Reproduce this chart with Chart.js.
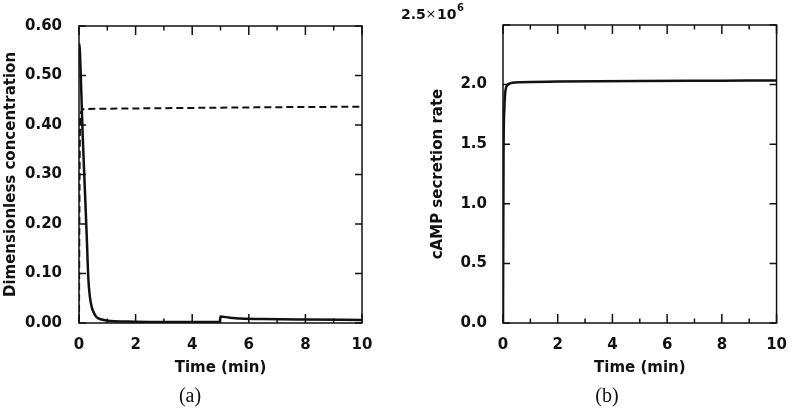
<!DOCTYPE html>
<html>
<head>
<meta charset="utf-8">
<script src="https://cdn.jsdelivr.net/npm/chart.js@4"></script>
<style>
  body { margin: 0; background: #fff; }
  #wrap { position: relative; width: 800px; height: 410px; }
  canvas { position: absolute; top: 0; }
</style>
</head>
<body>
<div id="wrap">
  <canvas id="chartA" width="400" height="410" style="left:0"></canvas>
  <canvas id="chartB" width="400" height="410" style="left:400px"></canvas>
</div>
<script>
// panel (a): dimensionless concentrations
const timeSolidA = [0, 0.03, 0.08, 0.13, 0.2, 0.27, 0.33, 0.38, 0.45, 0.53, 0.62, 0.8, 1.1, 1.6, 2.5, 4.97, 5.0, 5.3, 5.7, 6.5, 8, 10];
const solidA = [0.565, 0.55, 0.47, 0.38, 0.28, 0.18, 0.09, 0.055, 0.032, 0.02, 0.012, 0.007, 0.004, 0.003, 0.002, 0.002, 0.013, 0.011, 0.009, 0.008, 0.007, 0.006];
const timeDashedA = [0, 0.02, 0.05, 0.15, 1, 3, 5, 7, 10];
const dashedA = [0, 0.3, 0.42, 0.432, 0.433, 0.434, 0.435, 0.436, 0.437];

// panel (b): cAMP secretion rate, in units of 10^6
const timeB = [0, 0.02, 0.05, 0.08, 0.12, 0.2, 0.35, 0.6, 2, 5, 8, 10];
const rateB = [0, 1.4, 1.8, 1.93, 1.98, 2.005, 2.015, 2.02, 2.025, 2.03, 2.033, 2.035];

// ticks
const xTicks = [0, 2, 4, 6, 8, 10];
const xMinor = [1, 3, 5, 7, 9];
const yTicksA = [0, 0.1, 0.2, 0.3, 0.4, 0.5, 0.6];
const yTicksB = [0, 0.5, 1.0, 1.5, 2.0, 2.5];

const ink = '#111';
const tickFont = { family: 'DejaVu Sans', size: 15, weight: 'bold' };

const pts = (xs, ys) => xs.map((x, i) => ({ x: x, y: ys[i] }));

// frame with inward ticks on all four sides, plus the caption and the 10^6 label
const frameTicks = {
  id: 'frameTicks',
  afterDatasetsDraw(chart, args, opts) {
    const { ctx, chartArea: a, scales: { x, y } } = chart;
    ctx.save();
    ctx.strokeStyle = ink;
    ctx.lineWidth = 1.5;
    ctx.strokeRect(a.left, a.top, a.right - a.left, a.bottom - a.top);
    ctx.beginPath();
    xTicks.forEach(v => {
      const px = x.getPixelForValue(v);
      ctx.moveTo(px, a.bottom); ctx.lineTo(px, a.bottom - 9);
      ctx.moveTo(px, a.top); ctx.lineTo(px, a.top + 9);
    });
    xMinor.forEach(v => {
      const px = x.getPixelForValue(v);
      ctx.moveTo(px, a.bottom); ctx.lineTo(px, a.bottom - 4.5);
      ctx.moveTo(px, a.top); ctx.lineTo(px, a.top + 4.5);
    });
    opts.yTicks.forEach(v => {
      const py = y.getPixelForValue(v);
      ctx.moveTo(a.left, py); ctx.lineTo(a.left + 7, py);
      ctx.moveTo(a.right, py); ctx.lineTo(a.right - 7, py);
    });
    ctx.stroke();

    ctx.fillStyle = ink;
    ctx.textAlign = 'center';
    ctx.textBaseline = 'middle';
    ctx.font = '20px "Liberation Serif"';
    ctx.fillText(opts.caption, opts.capX, 397);

    if (opts.exponent) {
      ctx.textAlign = 'left';
      ctx.font = 'bold 14px "DejaVu Sans"';
      ctx.fillText('2.5', 1, 15);
      ctx.font = '13px "DejaVu Sans"';
      ctx.textAlign = 'center';
      ctx.fillText('\u00d7', 31, 15);
      ctx.font = 'bold 14px "DejaVu Sans"';
      ctx.textAlign = 'left';
      ctx.fillText('10', 37, 15);
      ctx.font = 'bold 10px "DejaVu Sans"';
      ctx.fillText('6', 57, 8);
    }
    ctx.restore();
  }
};

function makeChart(id, datasets, cfg) {
  return new Chart(document.getElementById(id), {
    type: 'line',
    data: { datasets: datasets },
    options: {
      responsive: false,
      animation: false,
      layout: { padding: { top: 14, right: cfg.right, bottom: 0, left: 0 } },
      plugins: {
        legend: { display: false },
        tooltip: { enabled: false },
        frameTicks: { yTicks: cfg.yTicks, caption: cfg.caption, capX: cfg.capX, exponent: cfg.exponent }
      },
      scales: {
        x: {
          type: 'linear',
          min: 0, max: 10,
          afterBuildTicks: s => { s.ticks = xTicks.map(v => ({ value: v })); },
          afterFit: s => { s.height = 87; },
          grid: { display: false, drawTicks: false },
          border: { display: false },
          ticks: { font: tickFont, color: ink, padding: 13, maxRotation: 0, callback: v => String(v) },
          title: { display: true, text: 'Time (min)', font: tickFont, color: ink, padding: { bottom: 33 } }
        },
        y: {
          min: 0, max: cfg.yTicks[cfg.yTicks.length - 1],
          afterBuildTicks: s => { s.ticks = cfg.yTicks.map(v => ({ value: v })); },
          afterFit: s => { s.width = cfg.yWidth; },
          grid: { display: false, drawTicks: false },
          border: { display: false },
          ticks: { font: tickFont, color: ink, padding: cfg.tickPad, callback: cfg.label },
          title: { display: true, text: cfg.yTitle, font: tickFont, color: ink, padding: { top: cfg.titlePad } }
        }
      }
    },
    plugins: [frameTicks]
  });
}

makeChart('chartA', [
  { data: pts(timeSolidA, solidA), borderColor: ink, borderWidth: 2.5, pointRadius: 0, cubicInterpolationMode: 'monotone' },
  { data: pts(timeDashedA, dashedA), borderColor: ink, borderWidth: 2, borderDash: [7, 4], pointRadius: 0, cubicInterpolationMode: 'monotone' }
], {
  right: 38, yWidth: 79, tickPad: 17, titlePad: 2,
  yTicks: yTicksA, label: v => v.toFixed(2),
  yTitle: 'Dimensionless concentration', caption: '(a)', capX: 190, exponent: false
});

makeChart('chartB', [
  { data: pts(timeB, rateB), borderColor: ink, borderWidth: 2.5, pointRadius: 0, cubicInterpolationMode: 'monotone' }
], {
  right: 14, yWidth: 103, tickPad: 16, titlePad: 29,
  yTicks: yTicksB, label: v => (v === 2.5 ? '' : v.toFixed(1)),
  yTitle: 'cAMP secretion rate', caption: '(b)', capX: 207, exponent: true
});
</script>
</body>
</html>
